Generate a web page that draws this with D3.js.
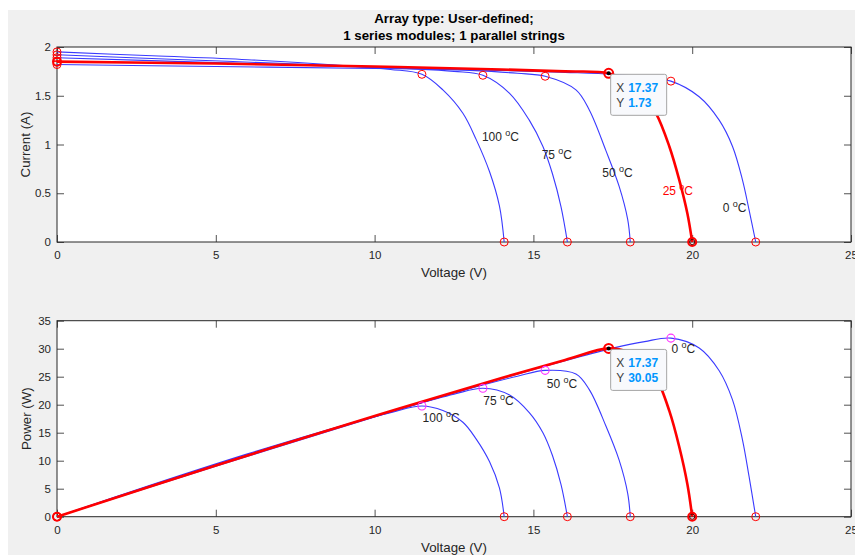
<!DOCTYPE html>
<html>
<head>
<meta charset="utf-8">
<script src="https://cdn.jsdelivr.net/npm/d3@7"></script>
<style>
  html, body { margin: 0; padding: 0; background: #ffffff; }
  svg { display: block; font-family: "Liberation Sans", Arial, Helvetica, sans-serif; }
</style>
</head>
<body>
<svg id="chart" width="855" height="555"></svg>
<script>
// ---------------- DATA ----------------
const titleLines = ["Array type: User-defined;", "1 series modules; 1 parallel strings"];
const temperatures = ["100", "75", "50", "25", "0"];
const xTicks = [0, 5, 10, 15, 20, 25];
const currentTicks = [0, 0.5, 1, 1.5, 2];
const powerTicks = [0, 5, 10, 15, 20, 25, 30, 35];

// 100 °C
const v100 = [0, 3, 6, 9, 10.5, 11.49, 12.15, 12.78, 13.2, 13.62, 13.93, 14.08];
const i100 = [1.95, 1.91, 1.87, 1.81, 1.77, 1.72, 1.56, 1.32, 1.05, 0.72, 0.37, 0];
const p100 = [0, 5.73, 11.22, 16.29, 18.59, 19.76, 18.95, 16.87, 13.86, 9.81, 5.15, 0];
// 75 °C
const v75 = [0, 4, 8, 11, 12.5, 13.41, 14.25, 14.87, 15.3, 15.6, 15.87, 16.07];
const i75 = [1.92, 1.87, 1.82, 1.78, 1.75, 1.71, 1.525, 1.25, 0.98, 0.70, 0.36, 0];
const p75 = [0, 7.48, 14.56, 19.58, 21.88, 22.93, 21.73, 18.59, 14.99, 10.92, 5.71, 0];
// 50 °C
const v50 = [0, 5, 10, 13, 14.5, 15.37, 16.34, 16.76, 17.28, 17.7, 17.97, 18.05];
const i50 = [1.89, 1.84, 1.79, 1.76, 1.73, 1.70, 1.56, 1.354, 0.94, 0.57, 0.23, 0];
const p50 = [0, 9.2, 17.9, 22.88, 25.09, 26.13, 25.49, 22.69, 16.24, 10.09, 4.13, 0];
// 25 °C
const v25 = [0, 5, 10, 14, 16, 17.37, 18.0, 18.45, 18.86, 19.28, 19.59, 19.85, 20.0];
const i25 = [1.85, 1.83, 1.80, 1.77, 1.75, 1.73, 1.63, 1.50, 1.32, 0.98, 0.64, 0.29, 0];
const p25 = [0, 9.15, 18.0, 24.78, 28.0, 30.05, 29.34, 27.68, 24.9, 18.89, 12.54, 5.76, 0];
// 0 °C
const v0 = [0, 5, 10, 14, 16, 17.5, 18.5, 19.33, 20.22, 20.85, 21.27, 21.58, 21.79, 22.0];
const i0 = [1.82, 1.80, 1.78, 1.76, 1.74, 1.72, 1.69, 1.65, 1.49, 1.25, 0.98, 0.64, 0.33, 0];
const p0 = [0, 9.0, 17.8, 24.64, 27.84, 30.1, 31.27, 31.89, 30.13, 26.06, 20.85, 13.81, 7.19, 0];

// ---------------- DRAW ----------------
const series = [
  {name: temperatures[0], v: v100, i: i100, p: p100, ref: false},
  {name: temperatures[1], v: v75,  i: i75,  p: p75,  ref: false},
  {name: temperatures[2], v: v50,  i: i50,  p: p50,  ref: false},
  {name: temperatures[4], v: v0,   i: i0,   p: p0,   ref: false},
  {name: temperatures[3], v: v25,  i: i25,  p: p25,  ref: true}
];

const BLUE = "#3a3aff", RED = "#ff0000", MAG = "#ff33ff", AX = "#262626";
const svg = d3.select("#chart");

// figure background
svg.append("rect").attr("x", 8).attr("y", 10).attr("width", 847).attr("height", 545).attr("fill", "#f0f0f0");

const x = d3.scaleLinear().domain([0, 25]).range([57, 851]);
const yI = d3.scaleLinear().domain([0, 2]).range([242, 47]);
const yP = d3.scaleLinear().domain([0, 35]).range([516.7, 320.7]);

// title
svg.append("text").attr("x", 454).attr("y", 22.5).attr("text-anchor", "middle")
  .attr("font-weight", "bold").attr("font-size", 13.3).attr("fill", "#000").text(titleLines[0]);
svg.append("text").attr("x", 454).attr("y", 39.5).attr("text-anchor", "middle")
  .attr("font-weight", "bold").attr("font-size", 13.3).attr("fill", "#000").text(titleLines[1]);

function drawAxes(y, yTicks, yLabel, yLabelX) {
  const [y0, y1] = y.range();
  svg.append("rect").attr("x", 57).attr("y", y1).attr("width", 851 - 57).attr("height", y0 - y1).attr("fill", "#fff");
  const gb = svg.append("g").attr("transform", `translate(0,${y0})`)
    .call(d3.axisBottom(x).tickValues(xTicks).tickFormat(d3.format("d")).tickSize(-7).tickPadding(9));
  const gt = svg.append("g").attr("transform", `translate(0,${y1})`)
    .call(d3.axisTop(x).tickValues(xTicks).tickFormat("").tickSize(-7));
  const gl = svg.append("g").attr("transform", `translate(57,0)`)
    .call(d3.axisLeft(y).tickValues(yTicks).tickFormat(d => String(d)).tickSize(-7).tickPadding(6));
  const gr = svg.append("g").attr("transform", `translate(851,0)`)
    .call(d3.axisRight(y).tickValues(yTicks).tickFormat("").tickSize(-7));
  [gb, gt, gl, gr].forEach(g => {
    g.select(".domain").remove();
    g.selectAll(".tick line").attr("stroke", AX).attr("stroke-width", 0.8);
    g.selectAll(".tick text").attr("fill", AX).attr("font-size", 11.5)
      .attr("font-family", "'Liberation Sans', Arial, sans-serif");
  });
  svg.append("rect").attr("x", 57).attr("y", y1).attr("width", 851 - 57).attr("height", y0 - y1)
    .attr("fill", "none").attr("stroke", AX).attr("stroke-width", 1);
  svg.append("text").attr("x", 454).attr("y", y0 + 35).attr("text-anchor", "middle")
    .attr("font-size", 13.3).attr("fill", AX).text("Voltage (V)");
  svg.append("text").attr("transform", `translate(${yLabelX},${(y0 + y1) / 2}) rotate(-90)`)
    .attr("text-anchor", "middle").attr("font-size", 13.3).attr("fill", AX).text(yLabel);
}

drawAxes(yI, currentTicks, "Current (A)", 29.5);
drawAxes(yP, powerTicks, "Power (W)", 31);

const smooth = d3.curveCatmullRom.alpha(0.5);
const lineI = d3.line().x(d => x(d[0])).y(d => yI(d[1])).curve(smooth);
const lineP = d3.line().x(d => x(d[0])).y(d => yP(d[1])).curve(smooth);

series.forEach(s => {
  const ptsI = s.v.map((v, k) => [v, s.i[k]]);
  const ptsP = s.v.map((v, k) => [v, s.p[k]]);
  [[lineI, ptsI], [lineP, ptsP]].forEach(([ln, pts]) => {
    svg.append("path").attr("d", ln(pts)).attr("fill", "none")
      .attr("stroke", s.ref ? RED : BLUE).attr("stroke-width", s.ref ? 2.6 : 1.1)
      .attr("stroke-linejoin", "round");
  });
});

function circ(cx, cy, color, w, r) {
  svg.append("circle").attr("cx", cx).attr("cy", cy).attr("r", r || 4)
    .attr("fill", "none").attr("stroke", color).attr("stroke-width", w);
}

series.forEach(s => {
  const n = s.v.length - 1;
  const m = d3.maxIndex(s.p);
  const w = s.ref ? 2 : 1;
  // current plot
  circ(x(s.v[0]), yI(s.i[0]), RED, w);
  circ(x(s.v[n]), yI(s.i[n]), RED, w);
  // power plot
  circ(x(s.v[0]), yP(s.p[0]), RED, w);
  circ(x(s.v[n]), yP(s.p[n]), RED, w);
  if (!s.ref) {
    circ(x(s.v[m]), yI(s.i[m]), RED, 1);
    circ(x(s.v[m]), yP(s.p[m]), MAG, 1.1);
  } else {
    circ(x(s.v[n]), yI(s.i[n]), "#5a0000", 1, 2.6);
    circ(x(s.v[n]), yP(s.p[n]), "#5a0000", 1, 2.6);
  }
});

// temperature labels (data coordinates)
const labI = {"100": [13.38, 1.036], "75": [15.26, 0.849], "50": [17.17, 0.669], "25": [19.07, 0.482], "0": [20.96, 0.305]};
const labP = {"100": [11.51, 16.86], "75": [13.42, 19.95], "50": [15.42, 22.93], "0": [19.35, 29.18]};
function tempLabel(px, py, name, color) {
  const t = svg.append("text").attr("x", px).attr("y", py).attr("font-size", 12).attr("fill", color);
  t.append("tspan").text(name + " ");
  t.append("tspan").attr("font-size", 9).attr("dy", -5).text("o");
  t.append("tspan").attr("dy", 5).text("C");
}
temperatures.forEach(tn => {
  tempLabel(x(labI[tn][0]), yI(labI[tn][1]), tn, tn === "25" ? RED : AX);
  if (labP[tn]) tempLabel(x(labP[tn][0]), yP(labP[tn][1]), tn, AX);
});

// data tips at the 25 °C maximum power point
const mRef = d3.maxIndex(p25);
function dataTip(mx, my, xv, yv) {
  circ(mx, my, RED, 2, 4.5);
  svg.append("circle").attr("cx", mx).attr("cy", my).attr("r", 2).attr("fill", "#000");
  const bx = mx + 2, by = my + 1;
  svg.append("rect").attr("x", bx).attr("y", by).attr("width", 56).attr("height", 41).attr("rx", 2)
    .attr("fill", "#f8f9fc").attr("stroke", "#a5a5a5").attr("stroke-width", 1);
  [["X", xv, 18], ["Y", yv, 33]].forEach(([k, val, dy]) => {
    const t = svg.append("text").attr("x", bx + 5.5).attr("y", by + dy).attr("font-size", 12);
    t.append("tspan").attr("fill", "#404040").text(k);
    t.append("tspan").attr("x", bx + 17.5).attr("fill", "#0096ff").attr("font-weight", "bold").text(val);
  });
}
dataTip(x(v25[mRef]), yI(i25[mRef]), v25[mRef].toFixed(2), i25[mRef].toFixed(2));
dataTip(x(v25[mRef]), yP(p25[mRef]), v25[mRef].toFixed(2), p25[mRef].toFixed(2));
</script>
</body>
</html>
